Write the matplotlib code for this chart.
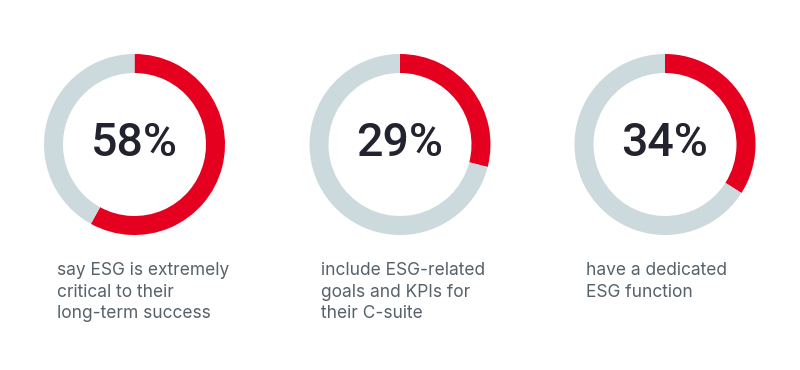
import matplotlib.pyplot as plt

values = [58, 29, 34]
labels = ["say ESG is extremely\ncritical to their\nlong-term success",
          "include ESG-related\ngoals and KPIs for\ntheir C-suite",
          "have a dedicated\nESG function"]

red = "#e6001f"
grey = "#cddadd"

fig = plt.figure(figsize=(8, 3.7), dpi=100)
ax = fig.add_axes([0, 0, 1, 1])
ax.set_xlim(0, 800)
ax.set_ylim(0, 370)
ax.set_aspect("equal")

centers_x = [134.5, 400, 665]
cy = 370 - 144.5
text_x = [57, 321, 586]

for i, v in enumerate(values):
    ax.pie([v, 100 - v], colors=[red, grey], startangle=90, counterclock=False,
           center=(centers_x[i], cy), radius=90.5, frame=True,
           wedgeprops=dict(width=19, linewidth=0))
    ax.text(centers_x[i], cy + 1, f"{v}%", ha="center", va="center",
            fontsize=33.5, fontfamily="Roboto", fontweight="medium", color="#22232e")
    ax.text(text_x[i], 370 - 262, labels[i], ha="left", va="top",
            fontsize=12.5, fontfamily="Inter", color="#56616a", linespacing=1.36)

ax.set_xlim(0, 800)
ax.set_ylim(0, 370)
ax.axis("off")
fig.savefig("out.png", dpi=100)
